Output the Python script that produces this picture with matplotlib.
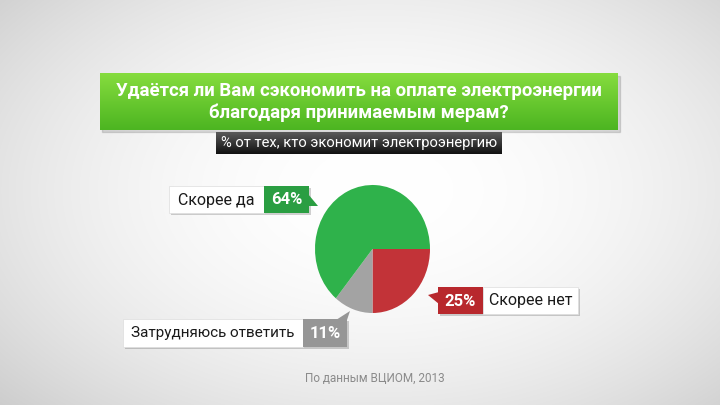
import numpy as np
import matplotlib
matplotlib.use("Agg")
import matplotlib.pyplot as plt
from matplotlib.patches import Rectangle, Polygon

plt.rcParams['font.family'] = ['Roboto', 'DejaVu Sans']

# ---- data ----
categories = ['Скорее да', 'Скорее нет', 'Затрудняюсь ответить']
values = [64, 25, 11]
pct_labels = ['64%', '25%', '11%']
title_lines = ['Удаётся ли Вам сэкономить на оплате электроэнергии',
               'благодаря принимаемым мерам?']
subtitle = '% от тех, кто экономит электроэнергию'
source = 'По данным ВЦИОМ, 2013'

colors = ['#2fb24b', '#c23338', '#a3a3a3']
box_colors = ['#2a9e42', '#b8282d', '#969696']

W, H = 720, 405
fig = plt.figure(figsize=(7.2, 4.05), dpi=100)
ax = fig.add_axes([0, 0, 1, 1])
ax.set_xlim(0, W)
ax.set_ylim(H, 0)
ax.axis('off')

# background vignette
yy, xx = np.mgrid[0:H, 0:W]
d = np.sqrt(((xx - 380) / 420.0) ** 2 + ((yy - 190) / 260.0) ** 2)
g = 1.0 - 0.13 * np.clip(d, 0, 1.4) ** 2
bg = np.dstack([g, g, g])
ax.imshow(bg, extent=[0, W, H, 0], zorder=0, aspect='auto')

def grad_box(x0, y0, x1, y1, ctop, cbot, z=2):
    n = 64
    t = np.linspace(0, 1, n)[:, None]
    ct = np.array(matplotlib.colors.to_rgb(ctop))
    cb = np.array(matplotlib.colors.to_rgb(cbot))
    img = (ct[None, None, :] * (1 - t[..., None]) + cb[None, None, :] * t[..., None])
    img = np.repeat(img, 2, axis=1)
    ax.imshow(img, extent=[x0, x1, y1, y0], zorder=z, aspect='auto')

# title box
ax.add_patch(Rectangle((102, 76), 518, 56, color='#000000', alpha=0.12, zorder=1))
grad_box(100, 73, 618, 130, '#86dc3e', '#4cb521')
ax.text(359, 91, title_lines[0], ha='center', va='center', color='white',
        fontsize=13.4, fontweight='bold', zorder=5)
ax.text(359, 113, title_lines[1], ha='center', va='center', color='white',
        fontsize=13.4, fontweight='bold', zorder=5)

# subtitle box
grad_box(216, 132, 502, 154, '#5a5a5a', '#111111')
ax.text(359, 143, subtitle, ha='center', va='center', color='white',
        fontsize=10.6, zorder=5)

# pie
pax = fig.add_axes([315 / W, 1 - 313 / H, 115 / W, 128 / H])
order = [1, 2, 0]
pax.pie([values[i] for i in order], colors=[colors[i] for i in order],
        startangle=0, counterclock=False, radius=1.0,
        wedgeprops=dict(linewidth=0))
pax.set_xlim(-1, 1)
pax.set_ylim(-1, 1)
pax.set_aspect('auto')
pax.axis('off')

def label(white_box, col_box, text, pct, color, arrow, fs):
    wx0, wy0, wx1, wy1 = white_box
    cx0, cy0, cx1, cy1 = col_box
    sx0, sx1 = min(wx0, cx0), max(wx1, cx1)
    ax.add_patch(Rectangle((sx0 + 2, wy0 + 2), sx1 - sx0, wy1 - wy0,
                           color='black', alpha=0.18, zorder=2, lw=0))
    ax.add_patch(Rectangle((wx0, wy0), wx1 - wx0, wy1 - wy0,
                           facecolor='white', edgecolor='#dddddd', lw=0.5, zorder=3))
    ax.add_patch(Rectangle((cx0, cy0), cx1 - cx0, cy1 - cy0,
                           facecolor=color, lw=0, zorder=3))
    ax.add_patch(Polygon(arrow, closed=True, facecolor=color, lw=0, zorder=3))
    ax.text((wx0 + wx1) / 2, (wy0 + wy1) / 2 + 0.5, text, ha='center', va='center',
            fontsize=fs, color='#1a1a1a', zorder=5)
    ax.text((cx0 + cx1) / 2, (cy0 + cy1) / 2 + 0.5, pct, ha='center', va='center',
            fontsize=12, fontweight='bold', color='white', zorder=5)

label((169, 186, 264, 213), (264, 186, 309, 213), categories[0], pct_labels[0],
      box_colors[0], [(308, 194), (308, 206), (318, 206)], 11.5)
label((483, 287, 578, 314), (438, 287, 483, 314), categories[1], pct_labels[1],
      box_colors[1], [(439, 292), (439, 304), (428, 295)], 11.5)
label((123, 319, 303, 347), (303, 319, 347, 347), categories[2], pct_labels[2],
      box_colors[2], [(336, 320), (347, 320), (350, 311)], 11)

ax.text(375, 378, source, ha='center', va='center', fontsize=8.5, color='#8a8a8a', zorder=5)

fig.savefig('out.png', dpi=100)
